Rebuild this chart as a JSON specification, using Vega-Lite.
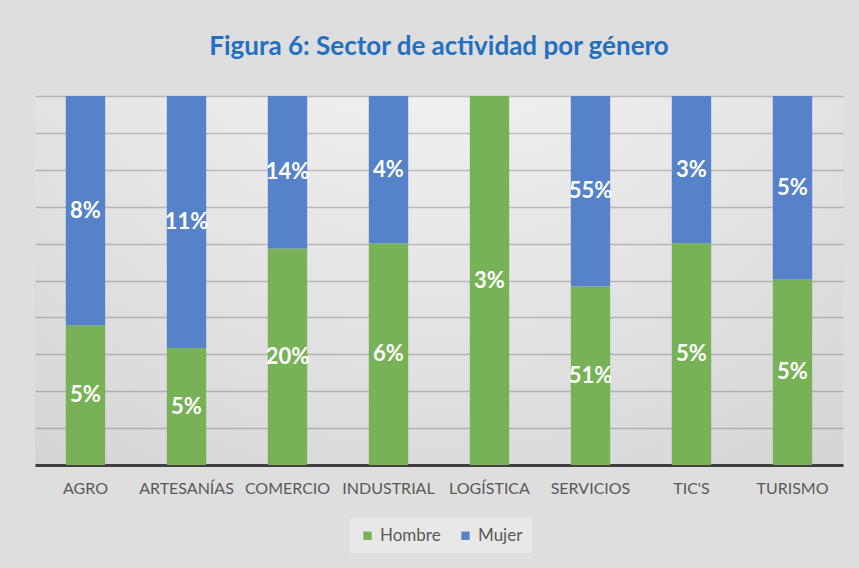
{
  "$schema": "https://vega.github.io/schema/vega-lite/v6.json",
  "autosize": {"type": "none"},
  "width": 808,
  "height": 369,
  "padding": {"left": 35, "top": 96, "right": 16, "bottom": 103},
  "background": "#dedede",
  "config": {
    "view": {"stroke": null, "fill": {"gradient": "radial", "x1": 0.5, "y1": 0, "r1": 0, "x2": 0.5, "y2": 0, "r2": 0.95, "stops": [{"offset": 0, "color": "#fbfbfb"}, {"offset": 1, "color": "#d2d2d2"}]}}
  },
  "title": {"text": "Figura 6: Sector de actividad por género", "font": "Lato", "fontSize": 26, "fontWeight": "bold", "color": "#2370c0", "offset": 36, "anchor": "middle"},
  "data": {"values": [
    {"sector": "AGRO", "genero": "Hombre", "share": 0.379, "label": "5%"},
    {"sector": "AGRO", "genero": "Mujer", "share": 0.621, "label": "8%"},
    {"sector": "ARTESANÍAS", "genero": "Hombre", "share": 0.317, "label": "5%"},
    {"sector": "ARTESANÍAS", "genero": "Mujer", "share": 0.683, "label": "11%"},
    {"sector": "COMERCIO", "genero": "Hombre", "share": 0.587, "label": "20%"},
    {"sector": "COMERCIO", "genero": "Mujer", "share": 0.413, "label": "14%"},
    {"sector": "INDUSTRIAL", "genero": "Hombre", "share": 0.601, "label": "6%"},
    {"sector": "INDUSTRIAL", "genero": "Mujer", "share": 0.399, "label": "4%"},
    {"sector": "LOGÍSTICA", "genero": "Hombre", "share": 1.0, "label": "3%"},
    {"sector": "SERVICIOS", "genero": "Hombre", "share": 0.484, "label": "51%"},
    {"sector": "SERVICIOS", "genero": "Mujer", "share": 0.516, "label": "55%"},
    {"sector": "TIC'S", "genero": "Hombre", "share": 0.601, "label": "5%"},
    {"sector": "TIC'S", "genero": "Mujer", "share": 0.399, "label": "3%"},
    {"sector": "TURISMO", "genero": "Hombre", "share": 0.503, "label": "5%"},
    {"sector": "TURISMO", "genero": "Mujer", "share": 0.497, "label": "5%"}
  ]},
  "encoding": {
    "x": {
      "field": "sector", "type": "nominal", "sort": null,
      "scale": {"paddingInner": 0.61, "paddingOuter": 0.305},
      "axis": {"title": null, "labelAngle": 0, "ticks": false, "grid": false, "domainColor": "#404040", "domainWidth": 3, "labelColor": "#595959", "labelFont": "Lato", "labelFontSize": 16, "labelPadding": 15, "labelOverlap": false, "labelLimit": 0}
    },
    "y": {
      "field": "share", "type": "quantitative", "stack": "normalize",
      "scale": {"domain": [0, 1]},
      "axis": {"title": null, "labels": false, "ticks": false, "domain": false, "grid": true, "values": [0, 0.1, 0.2, 0.3, 0.4, 0.5, 0.6, 0.7, 0.8, 0.9, 1], "gridColor": "#000000", "gridOpacity": 0.2, "gridWidth": 1.5}
    },
    "order": {"field": "genero", "sort": "ascending"}
  },
  "layer": [
    {
      "mark": {"type": "bar"},
      "encoding": {
        "color": {"field": "genero", "type": "nominal", "scale": {"domain": ["Hombre", "Mujer"], "range": ["#78b257", "#5682ca"]},
          "legend": {"title": null, "orient": "none", "legendX": 315, "legendY": 422, "direction": "horizontal", "symbolType": "square", "symbolSize": 70, "symbolStrokeWidth": 0, "labelFont": "Lato", "labelFontSize": 17, "labelColor": "#595959", "fillColor": "#e8e8e8", "padding": 9, "columnPadding": 16}}
      }
    },
    {
      "mark": {"type": "text", "font": "Lato", "fontSize": 22, "fontWeight": "bold", "color": "white", "baseline": "middle", "align": "center"},
      "encoding": {
        "y": {"field": "share", "type": "quantitative", "stack": "normalize", "bandPosition": 0.5},
        "detail": {"field": "genero"},
        "text": {"field": "label"}
      }
    }
  ]
}
